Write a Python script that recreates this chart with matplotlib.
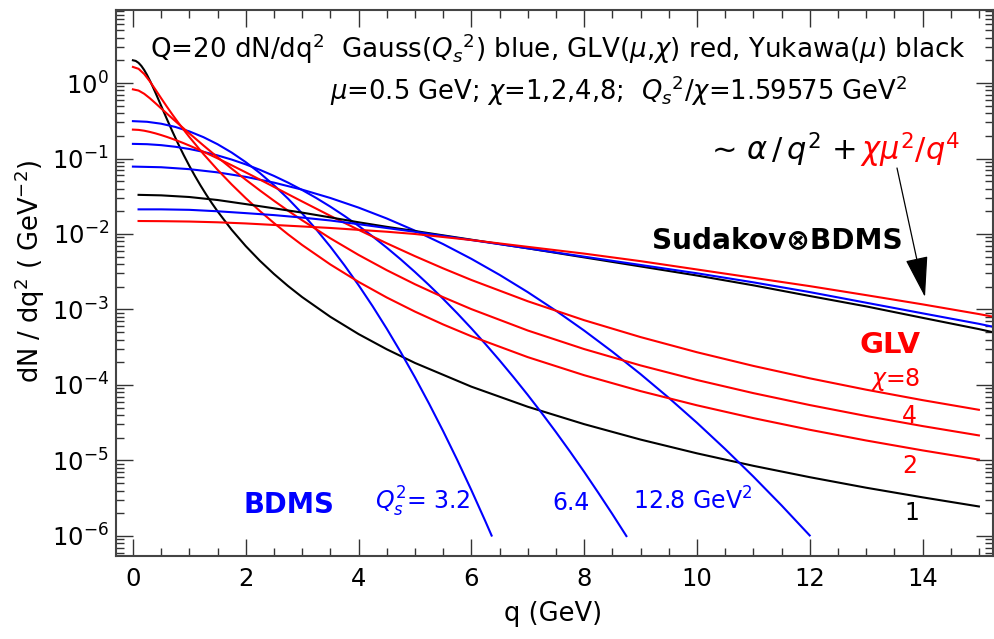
import numpy as np
import matplotlib
matplotlib.use('Agg')
import matplotlib.pyplot as plt
from matplotlib.ticker import NullFormatter

# ---------------- data ----------------
# Yukawa(mu) (black)
yuk_q = [0, 0.05, 0.1, 0.15, 0.2, 0.25, 0.3, 0.35, 0.4, 0.45, 0.5,
         0.6, 0.7, 0.8, 0.9, 1.0, 1.1, 1.2, 1.3, 1.4, 1.5,
         1.75, 2.0, 2.25, 2.5, 2.75, 3.0, 3.5, 4.0, 4.5, 5.0,
         6, 7, 8, 9, 10, 11, 12, 13, 14, 15]
yuk_y = [2.0, 1.9606, 1.849, 1.6834, 1.486, 1.28, 1.081, 0.90084, 0.7436, 0.61048, 0.5,
         0.3359, 0.2283, 0.1578, 0.1112, 0.08, 0.058641, 0.043766, 0.033213, 0.025593, 0.02,
         0.01139, 0.00692, 0.004429, 0.002959, 0.002048, 0.001461, 8.0e-4, 4.73e-4, 2.974e-4,
         1.96e-4, 9.51e-5, 5.15e-5, 3.03e-5, 1.893e-5, 1.244e-5, 8.5e-6, 6.01e-6, 4.36e-6,
         3.25e-6, 2.46e-6]

# Gauss(Qs^2) (blue): Qs^2 = 3.2, 6.4, 12.8 GeV^2
g32_q = [0, 0.25, 0.5, 0.75, 1.0, 1.25, 1.5, 1.75, 2.0, 2.25, 2.5, 2.75, 3.0, 3.25, 3.5,
         3.75, 4.0, 4.25, 4.5, 4.75, 5.0, 5.25, 5.5, 5.75, 6.0, 6.25, 6.36]
g32_y = [0.3125, 0.30646, 0.28902, 0.26213, 0.22863, 0.19178, 0.1547, 0.12001, 0.089532,
         0.064237, 0.044322, 0.029409, 0.018767, 0.011517, 0.0067981, 0.0038577,
         0.0021056, 0.0011053, 5.5775e-4, 2.7085e-4, 1.2655e-4, 5.6775e-5, 2.4531e-5,
         1.018e-5, 4.0647e-6, 1.5611e-6, 1.0122e-6]
g64_q = [0, 0.25, 0.5, 0.75, 1.0, 1.25, 1.5, 1.75, 2.0, 2.25, 2.5, 2.75, 3.0, 3.25, 3.5,
         3.75, 4.0, 4.25, 4.5, 4.75, 5.0, 5.25, 5.5, 5.75, 6.0, 6.25, 6.5, 6.75, 7.0,
         7.25, 7.5, 7.75, 8.0, 8.25, 8.5, 8.75]
g64_y = [0.15625, 0.15473, 0.15026, 0.1431, 0.13365, 0.1224, 0.10993, 0.096828, 0.083634,
         0.070839, 0.058845, 0.047931, 0.038289, 0.029995, 0.023044, 0.017361, 0.012826,
         0.0092922, 0.0066003, 0.0046, 0.0031419, 0.0021061, 0.001384, 8.9177e-4,
         5.6353e-4, 3.4922e-4, 2.1228e-4, 1.2648e-4, 7.3981e-5, 4.2364e-5, 2.3814e-5,
         1.3124e-5, 7.0937e-6, 3.7503e-6, 1.9542e-6, 9.967e-7]
g128_q = [0, 0.5, 1, 1.5, 2, 2.5, 3, 3.5, 4, 4.5, 5, 5.5, 6, 6.5, 7, 7.5, 8, 8.5, 9, 9.5,
          10, 10.5, 11, 11.5, 12]
g128_y = [0.078125, 0.076614, 0.072254, 0.065531, 0.057157, 0.047944, 0.038676, 0.030002,
          0.022383, 0.016059, 0.01108, 0.0073523, 0.0046917, 0.0028792, 0.0016995,
          9.6445e-4, 5.264e-4, 2.7632e-4, 1.3944e-4, 6.7713e-5, 3.1638e-5, 1.4194e-5,
          6.1327e-6, 2.5449e-6, 1.0162e-6]

# GLV(mu, chi) (red), chi = 2, 4, 8
glv_q = [0, 0.1, 0.2, 0.3, 0.4, 0.5, 0.6, 0.7, 0.8, 0.9, 1.0, 1.25, 1.5, 1.75, 2.0,
         2.25, 2.5, 2.75, 3.0, 3.5, 4.0, 4.5, 5.0, 5.5, 6, 7, 8, 9, 10, 11, 12, 13, 14, 15]
glv_chi2 = [1.633, 1.541, 1.315, 1.051, 0.8164, 0.6298, 0.4882, 0.3818, 0.3014, 0.2401,
            0.1928, 0.1148, 0.0710, 0.04538, 0.02986, 0.02018, 0.01398, 0.009898,
            0.007154, 0.00395, 0.002324, 0.001443, 9.381e-4, 6.338e-4, 4.425e-4,
            2.34e-4, 1.348e-4, 8.299e-5, 5.383e-5, 3.642e-5, 2.552e-5, 1.841e-5,
            1.361e-5, 1.028e-5]
glv_chi4 = [0.8241, 0.7945, 0.7199, 0.6284, 0.5396, 0.4615, 0.3949, 0.3384, 0.2906,
            0.2499, 0.2152, 0.149, 0.1041, 0.0735, 0.05243, 0.03782, 0.02759, 0.02037,
            0.01521, 0.008773, 0.005287, 0.003319, 0.002162, 0.001457, 0.001012,
            5.272e-4, 2.992e-4, 1.817e-4, 1.165e-4, 7.805e-5, 5.424e-5, 3.886e-5,
            2.857e-5, 2.148e-5]
glv_chi8 = [0.2414, 0.2393, 0.2334, 0.2250, 0.2152, 0.2045, 0.1934, 0.1820, 0.1707,
            0.1595, 0.1485, 0.1230, 0.1005, 0.08144, 0.06558, 0.05261, 0.04212, 0.0337,
            0.02699, 0.0174, 0.01136, 0.007536, 0.00509, 0.003506, 0.002462, 0.001287,
            7.22e-4, 4.312e-4, 2.716e-4, 1.79e-4, 1.226e-4, 8.669e-5, 6.302e-5, 4.692e-5]

# Sudakov x BDMS curves (black, blue, red)
sud_q = [0.1, 0.5, 1, 1.5, 2, 2.5, 3, 3.5, 4, 4.5, 5, 6, 7, 8, 9, 10, 11, 12, 13, 14,
         15, 15.3]
sud_black = [0.0330, 0.0325, 0.0309, 0.0282, 0.0249, 0.0219, 0.0192, 0.0166, 0.0143,
             0.01245, 0.01096, 0.00841, 0.00646, 0.0049, 0.00372, 0.00282, 0.00209,
             0.00151, 0.0011, 7.76e-4, 5.5e-4, 4.9e-4]
sud_blue = [0.0212, 0.0212, 0.0209, 0.0200, 0.0189, 0.0178, 0.0165, 0.0151, 0.0135,
            0.0120, 0.0107, 0.00832, 0.00646, 0.00501, 0.00389, 0.00302, 0.00229,
            0.0017, 0.00123, 8.9e-4, 6.46e-4, 5.8e-4]
sud_red = [0.01486, 0.01479, 0.01462, 0.01429, 0.0138, 0.01318, 0.01259, 0.01202,
           0.01135, 0.01072, 0.0100, 0.00832, 0.00676, 0.0055, 0.00437, 0.00339,
           0.00263, 0.00204, 0.00155, 0.00117, 8.7e-4, 7.9e-4]

# axis ticks
x_major = [0, 2, 4, 6, 8, 10, 12, 14]
x_minor = [0.5 * k for k in range(0, 31) if k % 4 != 0]
y_major = [1e-6, 1e-5, 1e-4, 1e-3, 1e-2, 1e-1, 1e0]
y_minor = [m * 10.0 ** e for e in range(-7, 1) for m in range(2, 10)
           if 5.43e-7 <= m * 10.0 ** e <= 9.27]

# ---------------- figure ----------------
plt.rcParams['font.family'] = ['DejaVu Sans']
plt.rcParams['mathtext.fontset'] = 'dejavusans'

W, H = 995, 639
fig = plt.figure(figsize=(W/100, H/100), dpi=100)

def fx(px):
    return px / W

def fy(py):
    return 1 - py / H

AX_L, AX_R, AX_T, AX_B = 116, 993, 10, 556
ax = fig.add_axes([fx(AX_L), fy(AX_B), fx(AX_R) - fx(AX_L), fy(AX_T) - fy(AX_B)])
ax.set_yscale('log')
ax.set_xlim(-0.3, 15.25)
ax.set_ylim(5.43e-7, 9.27)

LW = 1.5
ax.plot(yuk_q, yuk_y, color='black', lw=LW)
ax.plot(g32_q, g32_y, color='blue', lw=LW)
ax.plot(g64_q, g64_y, color='blue', lw=LW)
ax.plot(g128_q, g128_y, color='blue', lw=LW)
ax.plot(glv_q, glv_chi2, color='red', lw=LW)
ax.plot(glv_q, glv_chi4, color='red', lw=LW)
ax.plot(glv_q, glv_chi8, color='red', lw=LW)
ax.plot(sud_q, sud_black, color='black', lw=LW)
ax.plot(sud_q, sud_blue, color='blue', lw=LW)
ax.plot(sud_q, sud_red, color='red', lw=LW)

ax.set_xticks(x_major)
ax.set_xticks(x_minor, minor=True)
ax.set_yticks(y_major)
ax.set_yticks(y_minor, minor=True)
ax.xaxis.set_minor_formatter(NullFormatter())
ax.yaxis.set_minor_formatter(NullFormatter())
ax.tick_params(which='both', direction='in', top=True, right=True, labelsize=17.5,
               width=1, colors='#333333', labelcolor='black')
ax.tick_params(which='major', length=12)
ax.tick_params(which='minor', length=6)
ax.tick_params(axis='x', pad=8)
ax.tick_params(axis='y', pad=5)
for s in ax.spines.values():
    s.set_color('#444444')
    s.set_linewidth(1.5)

# axis labels (positions given in axes fractions)
aw, ah = AX_R - AX_L, AX_B - AX_T
ax.set_xlabel('q (GeV)', fontsize=18.5, va='center')
ax.xaxis.set_label_coords((553 - AX_L) / aw, -(614 - AX_B) / ah)
ax.set_ylabel(r'dN / dq$^2$ ( GeV$^{-2}$)', fontsize=18.5, va='center')
ax.yaxis.set_label_coords(-(AX_L - 30) / aw, (AX_B - 271) / ah)

# annotations
fig.text(fx(150), fy(58),
         r'Q=20 dN/dq$^2$  Gauss($Q_s$$^2$) blue, GLV($\mu$,$\chi$) red, Yukawa($\mu$) black',
         fontsize=18.8, ha='left', va='baseline')
fig.text(fx(330), fy(100),
         r'$\mu$=0.5 GeV; $\chi$=1,2,4,8;  $Q_s$$^2$/$\chi$=1.59575 GeV$^2$',
         fontsize=18.6, ha='left', va='baseline')
fig.text(fx(856), fy(160), r'~ $\alpha\,/\,q^2$ +', fontsize=22, ha='right', va='baseline')
fig.text(fx(860), fy(160), r'$\chi\mu^2/q^4$', fontsize=22, ha='left', va='baseline',
         color='red')
fig.text(fx(652), fy(248), 'Sudakov\u2297BDMS', fontsize=20.2, fontweight='bold',
         ha='left', va='baseline')
fig.text(fx(860), fy(353), 'GLV', fontsize=21, fontweight='bold', color='red',
         ha='left', va='baseline')
fig.text(fx(870), fy(386), r'$\chi$=8', fontsize=17, color='red', ha='left', va='baseline')
fig.text(fx(902), fy(423), '4', fontsize=17, color='red', ha='left', va='baseline')
fig.text(fx(902), fy(473), '2', fontsize=17, color='red', ha='left', va='baseline')
fig.text(fx(904), fy(520), '1', fontsize=17, color='black', ha='left', va='baseline')
fig.text(fx(243), fy(513), 'BDMS', fontsize=19.8, fontweight='bold', color='blue',
         ha='left', va='baseline')
fig.text(fx(375), fy(510), r'$Q_s^2$= 3.2', fontsize=17, color='blue', ha='left',
         va='baseline')
fig.text(fx(552), fy(510), '6.4', fontsize=17, color='blue', ha='left', va='baseline')
fig.text(fx(633), fy(510), r'12.8 GeV$^2$', fontsize=17, color='blue', ha='left',
         va='baseline')

# arrow from the formula down to the Sudakov curves
arr = matplotlib.patches.FancyArrowPatch(
    (fx(897), fy(168)), (fx(925), fy(297)), transform=fig.transFigure,
    arrowstyle='-|>,head_length=2.6,head_width=0.72', mutation_scale=10,
    lw=0.9, color='black', shrinkA=0, shrinkB=0)
fig.patches.append(arr)

fig.savefig('out.png', dpi=100)
